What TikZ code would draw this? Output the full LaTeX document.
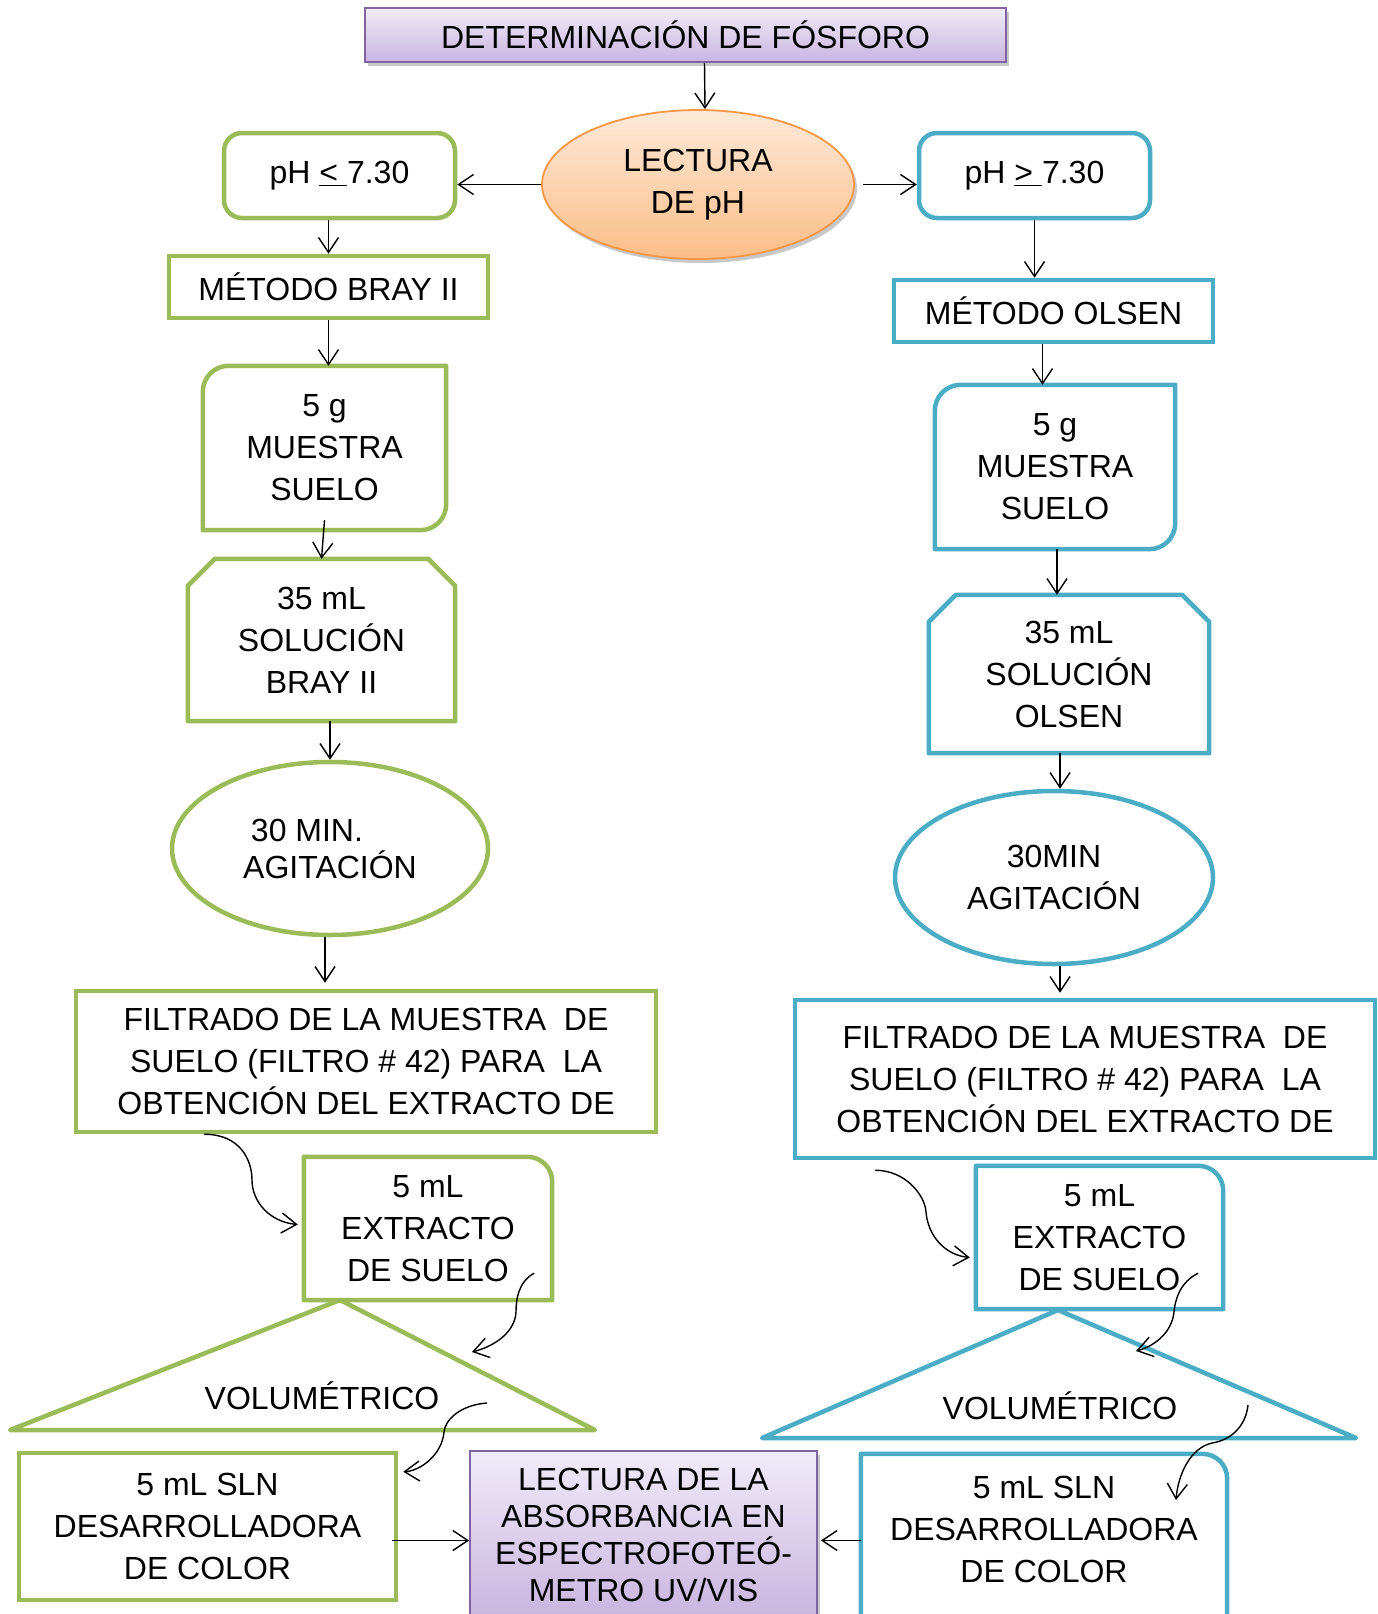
\documentclass[tikz,border=0pt]{standalone}
\usepackage{fontspec}
\setmainfont{Liberation Sans}
\usetikzlibrary{shapes.geometric,shadows,calc,arrows.meta}
\definecolor{grn}{HTML}{9BBB59}
\definecolor{blu}{HTML}{4BACC6}
\definecolor{purb}{HTML}{8064A2}
\definecolor{purT}{HTML}{F0EBF8}
\definecolor{purB}{HTML}{C9B5E0}
\definecolor{orT}{HTML}{FDE9D9}
\definecolor{orB}{HTML}{FBBE88}
\definecolor{orb}{HTML}{F79646}
\newcommand\diagoutline[2]{\draw[#2,line width=4.5pt,line join=round]
  ($(#1.north west)+(0,26)$) .. controls ($(#1.north west)+(0,11.5)$) and ($(#1.north west)+(11.5,0)$) .. ($(#1.north west)+(26,0)$)
  -- (#1.north east) -- ($(#1.south east)+(0,-26)$)
  .. controls ($(#1.south east)+(0,-11.5)$) and ($(#1.south east)+(-11.5,0)$) .. ($(#1.south east)+(-26,0)$)
  -- (#1.south west) -- cycle;}
\newcommand\troutline[3]{\draw[#2,line width=4.5pt,line join=round]
  ($(#1.south west)+(0,#3)$) -- (#1.north west) -- ($(#1.north east)+(-25,0)$)
  .. controls ($(#1.north east)+(-11,0)$) and ($(#1.north east)+(0,11)$) .. ($(#1.north east)+(0,25)$)
  -- ($(#1.south east)+(0,#3)$) -- cycle;}
\newcommand\choutline[2]{\draw[#2,line width=4.5pt,line join=round]
  (#1.south west) -- ($(#1.north west)+(0,27)$) -- ($(#1.north west)+(27,0)$)
  -- ($(#1.north east)+(-27,0)$) -- ($(#1.north east)+(0,27)$) -- (#1.south east) -- cycle;}
\begin{document}
\begin{tikzpicture}[x=1pt,y=-1pt,
  txt/.style={align=center,font=\fontsize{32}{42}\selectfont,inner sep=0pt,text=black},
  txtt/.style={align=center,font=\fontsize{32}{37}\selectfont,inner sep=0pt,text=black},
  lineG/.style={draw=grn,line width=4.5pt},
  lineB/.style={draw=blu,line width=4.5pt},
  shad/.style={drop shadow={shadow xshift=3pt,shadow yshift=-4pt,opacity=0.3,fill=black!70}},
  arr/.style={-{Straight Barb[length=15pt,width=20pt]},line width=1.4pt,black}]
\useasboundingbox (0,0) rectangle (1377,1614);
\fill[white] (0,0) rectangle (1377,1614);

% top
\node[txt,draw=purb,line width=1.8pt,top color=purT,bottom color=purB,shad,
  minimum width=641pt,minimum height=54pt] (title) at (685.5,35) {DETERMINACIÓN DE FÓSFORO};
\node[txt,ellipse,draw=orb,line width=1.8pt,top color=orT,bottom color=orB,shad,
  minimum width=312pt,minimum height=149pt] (lect) at (698,184.5) {LECTURA\\DE pH};
\node[txt,lineG,rounded corners=18pt,minimum width=231pt,minimum height=85pt] (phL) at (339.5,175.5) {pH \underline{<\ }7.30};
\node[txt,lineB,rounded corners=18pt,minimum width=231pt,minimum height=85pt] (phR) at (1034.5,175.5) {pH \underline{>\ }7.30};

% left column
\node[txt,lineG,minimum width=319pt,minimum height=62pt] (brayM) at (328.5,287) {MÉTODO BRAY II};
\node[txt,minimum width=243pt,minimum height=164pt] (gL) at (324.5,448) {5 g\\MUESTRA\\SUELO};
\diagoutline{gL}{grn}
\node[txt,minimum width=267pt,minimum height=162pt] (solL) at (321.5,640) {35 mL\\SOLUCIÓN\\BRAY II};
\choutline{solL}{grn}
\node[txtt,ellipse,lineG,minimum width=316pt,minimum height=173pt] (agL) at (330,848.5) {30 MIN.\hspace*{46pt}\\AGITACIÓN};
\node[txt,lineG,minimum width=580pt,minimum height=141pt] (filL) at (366,1061.5)
  {FILTRADO DE LA MUESTRA\ \ DE\\SUELO (FILTRO \# 42) PARA\ \ LA\\OBTENCIÓN DEL EXTRACTO DE};
\draw[draw=grn,line width=4.5pt,line join=round] (340,1300) -- (595,1430) -- (10,1430) -- cycle;
\node[txt,minimum width=248pt,minimum height=143pt] (exL) at (428,1228.5) {5 mL\\EXTRACTO\\DE SUELO};
\troutline{exL}{grn}{0}
\node[txt] (volL) at (322,1396) {VOLUMÉTRICO};
\node[txt,lineG,minimum width=377pt,minimum height=147pt] (slnL) at (207.5,1526.5) {5 mL SLN\\DESARROLLADORA\\DE COLOR};

% bottom centre
\node[txtt,draw=purb,line width=1.8pt,top color=purT,bottom color=purB,shad,
  minimum width=347pt,minimum height=167pt] (abs) at (643.5,1534.5)
  {LECTURA DE LA\\ABSORBANCIA EN\\ESPECTROFOTEÓ-\\METRO UV/VIS};

% right column
\node[txt,lineB,minimum width=319pt,minimum height=62pt] (olsenM) at (1053.5,311) {MÉTODO OLSEN};
\node[txt,minimum width=240pt,minimum height=164pt] (gR) at (1055,467) {5 g\\MUESTRA\\SUELO};
\diagoutline{gR}{blu}
\node[txt,minimum width=280pt,minimum height=158pt] (solR) at (1069,674) {35 mL\\SOLUCIÓN\\OLSEN};
\choutline{solR}{blu}
\node[txt,ellipse,lineB,minimum width=318pt,minimum height=173pt] (agR) at (1054,877.5) {30MIN\\AGITACIÓN};
\node[txt,lineB,minimum width=580pt,minimum height=158pt] (filR) at (1085,1079)
  {FILTRADO DE LA MUESTRA\ \ DE\\SUELO (FILTRO \# 42) PARA\ \ LA\\OBTENCIÓN DEL EXTRACTO DE};
\draw[draw=blu,line width=4.5pt,line join=round] (1058,1310) -- (1356,1438) -- (762,1438) -- cycle;
\node[txt,minimum width=247pt,minimum height=143pt] (exR) at (1099.5,1237.5) {5 mL\\EXTRACTO\\DE SUELO};
\troutline{exR}{blu}{0}
\node[txt] (volR) at (1060,1406) {VOLUMÉTRICO};
\node[txt,minimum width=366pt,minimum height=150pt] (slnR) at (1044,1529) {5 mL SLN\\DESARROLLADORA\\DE COLOR};
\troutline{slnR}{blu}{40}

% straight connectors
\draw[arr] ([xshift=19pt]title.south) -- ([xshift=7pt]lect.north);
\draw[arr] (lect.west) -- (lect.west -| phL.east);
\draw[arr] ([xshift=8pt]lect.east) -- (lect.east -| phR.west);
\draw[arr] (phL.south -| brayM.north) -- (brayM.north);
\draw[arr] (brayM.south) -- (brayM.south |- gL.north);
\draw[arr] ([yshift=10pt]gL.south) -- (solL.north);
\draw[arr] (solL.south -| agL.north) -- (agL.north);
\draw[arr] ([xshift=-5pt]agL.south) -- ([xshift=-5pt,yshift=6pt]agL.south |- filL.north);
\draw[arr] (phR.south) -- (phR.south |- olsenM.north);
\draw[arr] ([xshift=-11pt]olsenM.south) -- ([xshift=-11pt]olsenM.south |- gR.north);
\draw[arr] ([xshift=2pt]gR.south) -- ([xshift=2pt]gR.south |- solR.north);
\draw[arr] ([xshift=-9pt]solR.south) -- ([xshift=-9pt]solR.south |- agR.north);
\draw[arr] ([xshift=6pt]agR.south) -- ([xshift=6pt,yshift=5pt]agR.south |- filR.north);
\coordinate (a1) at ([xshift=-6pt,yshift=-14pt]slnL.east);
\draw[arr] (a1) -- (a1 -| abs.west);
\draw[arr] (slnR.west |- a1) -- ([xshift=3pt]abs.east |- a1);

% curved connectors
\draw[arr] ([xshift=-162pt]filL.south) .. controls (240,1134) and (252,1160) .. (252,1180)
  .. controls (252,1202) and (270,1222) .. ([xshift=-6pt,yshift=4pt]exL.west);
\draw[arr] ([xshift=-18pt,yshift=27pt]exL.south east) .. controls (518,1282) and (516,1300) .. (516,1312)
  .. controls (515,1332) and (495,1346) .. (472,1352);
\draw[arr] (487,1403) .. controls (460,1405) and (445,1420) .. (444,1432)
  .. controls (442,1455) and (420,1471) .. ([xshift=5pt,yshift=-21pt]slnL.north east);
\draw[arr] ([xshift=-210pt,yshift=-10pt]filR.south) .. controls (905,1170) and (925,1195) .. (926,1212)
  .. controls (928,1236) and (945,1255) .. ([xshift=-6pt,yshift=-20pt]exR.west);
\draw[arr] ([xshift=-25pt,yshift=36pt]exR.south east) .. controls (1180,1282) and (1175,1300) .. (1174,1312)
  .. controls (1172,1332) and (1155,1346) .. (1136,1351);
\draw[arr] (1248,1405) .. controls (1246,1425) and (1232,1440) .. (1212,1443)
  .. controls (1190,1448) and (1178,1475) .. (1176,1500);
\end{tikzpicture}
\end{document}
